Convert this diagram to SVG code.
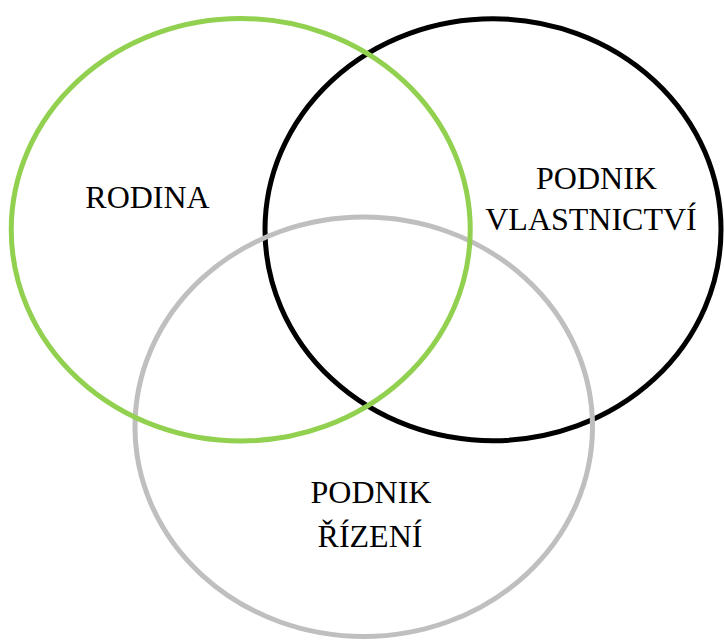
<svg xmlns="http://www.w3.org/2000/svg" width="724" height="641" viewBox="0 0 724 641">
<style>
.c{fill:none;stroke-width:5}
.t{font-family:"Liberation Serif","Times New Roman",serif;font-size:32px;fill:#000;text-anchor:middle}
</style>
<rect width="724" height="641" fill="#fff"/>
<g id="vlastnictvi">
<ellipse class="c" cx="493" cy="229.75" rx="228" ry="211" stroke="#000"/>
<text class="t" x="596.5" y="189">PODNIK</text>
<text class="t" x="591" y="230">VLASTNICTVÍ</text>
</g>
<g id="rizeni">
<ellipse class="c" cx="363.75" cy="426.75" rx="228.75" ry="209.75" stroke="#BFBFBF"/>
<text class="t" x="371" y="503">PODNIK</text>
<text class="t" x="370" y="547">ŘÍZENÍ</text>
</g>
<g id="rodina">
<ellipse class="c" cx="240.75" cy="229.75" rx="229.5" ry="211.25" stroke="#92D050"/>
<text class="t" x="147.5" y="208">RODINA</text>
</g>
<g id="connectors"/>
</svg>
